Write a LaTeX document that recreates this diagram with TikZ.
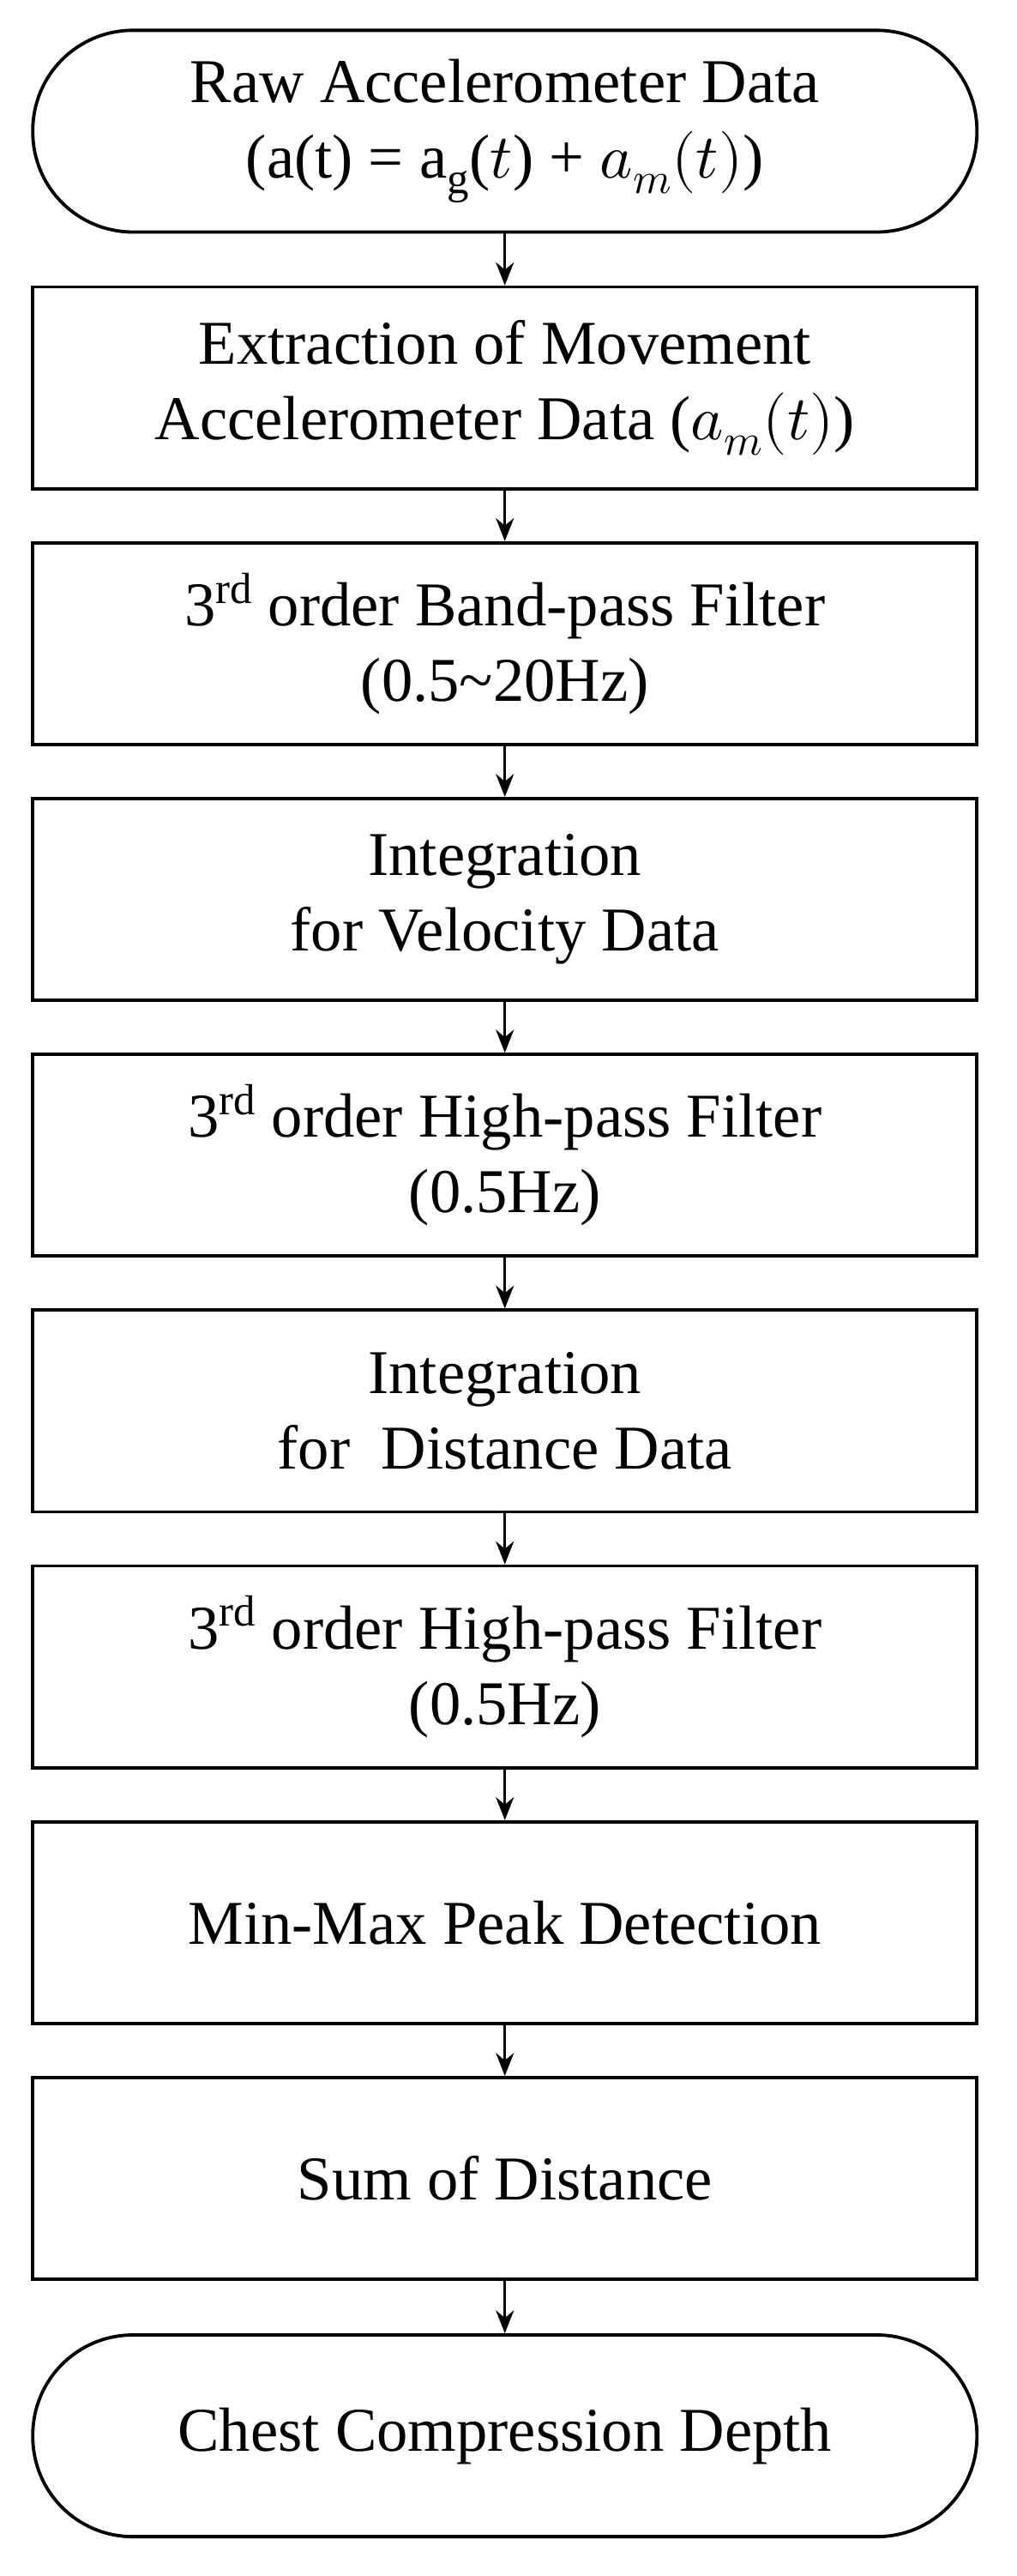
\documentclass[tikz,border=0pt]{standalone}
\usepackage{unicode-math}
\setmainfont{Liberation Serif}
\setmathfont{Latin Modern Math}
\usetikzlibrary{arrows.meta}
\begin{document}
\begin{tikzpicture}[x=1pt,y=-1pt,
  box/.style={draw,line width=2pt,minimum width=576pt,minimum height=123pt,align=center,font=\fontsize{38}{46}\selectfont,inner sep=0pt},
  term/.style={box,rounded corners=61pt},
  arr/.style={-{Stealth[length=14pt,width=11pt]},line width=1.6pt}]
\useasboundingbox (0,0) rectangle (620,1571);
\node[term] (n0) at (308,80) {Raw Accelerometer Data\\(a(t) = a$_{\mathrm{g}}$($t$) + $a_m(t)$)};
\node[box] (n1) at (308,236.5) {Extraction of Movement\\Accelerometer Data ($a_m(t)$)};
\node[box] (n2) at (308,392.5) {3\textsuperscript{rd} order Band-pass Filter\\(0.5\textasciitilde 20Hz)};
\node[box] (n3) at (308,548.5) {Integration\\for Velocity Data};
\node[box] (n4) at (308,704.5) {3\textsuperscript{rd} order High-pass Filter\\(0.5Hz)};
\node[box] (n5) at (308,860.5) {Integration\\for\ \ Distance Data};
\node[box] (n6) at (308,1016.5) {3\textsuperscript{rd} order High-pass Filter\\(0.5Hz)};
\node[box] (n7) at (308,1172.5) {Min-Max Peak Detection};
\node[box] (n8) at (308,1328.5) {Sum of Distance};
\node[term] (n9) at (308,1485.5) {Chest Compression Depth};
\foreach \a/\b in {n0/n1,n1/n2,n2/n3,n3/n4,n4/n5,n5/n6,n6/n7,n7/n8,n8/n9}
  \draw[arr] (\a.south) -- (\b.north);
\end{tikzpicture}
\end{document}
